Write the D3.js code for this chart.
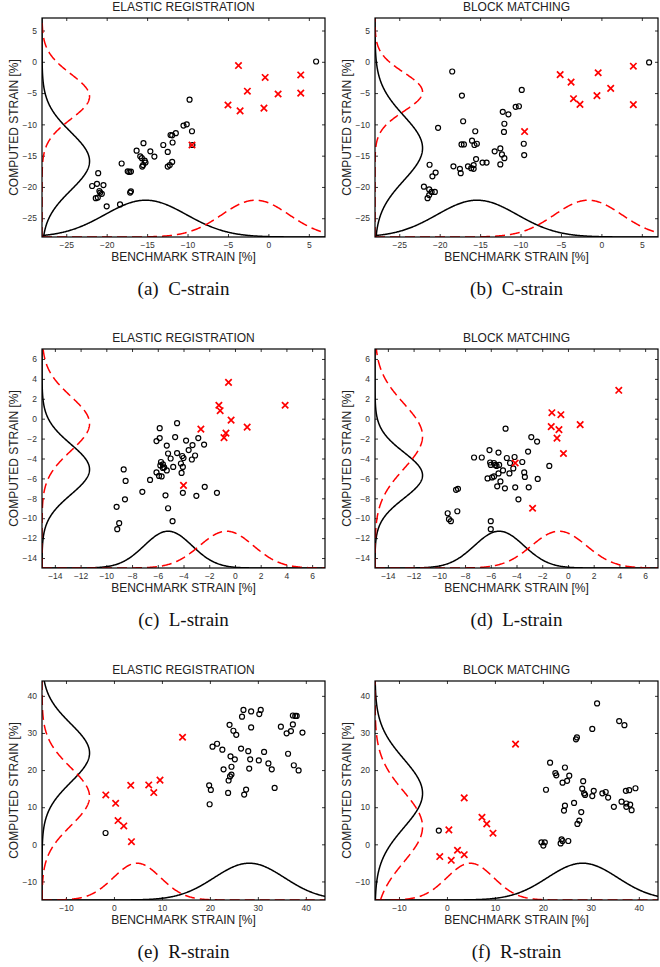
<!DOCTYPE html>
<html>
<head>
<meta charset="utf-8">
<script src="https://cdn.jsdelivr.net/npm/d3@7"></script>
<style>
  body { margin: 0; background: #fff; }
</style>
</head>
<body>
<div id="chart-area"></div>
<script>
// scatter data [benchmark, computed]
const cElasticCircles = [[5.9,0.05],[-9.75,-6.05],[-10.5,-10.2],[-10.1,-10.0],[-9.45,-11.1],[-11.45,-11.4],[-12.1,-11.7],[-11.9,-11.75],[-11.85,-12.9],[-9.4,-13.3],[-13.0,-13.3],[-15.45,-13.0],[-16.3,-14.2],[-14.6,-14.3],[-14.1,-15.15],[-15.85,-15.1],[-15.65,-15.4],[-15.3,-15.8],[-15.5,-16.5],[-12.45,-14.4],[-11.9,-16.0],[-12.45,-16.75],[-12.2,-16.5],[-15.2,-16.1],[-15.6,-16.75],[-18.15,-16.25],[-17.4,-17.5],[-17.0,-17.55],[-17.2,-17.6],[-17.0,-20.7],[-17.1,-20.9],[-18.35,-22.8],[-20.0,-23.1],[-21.05,-17.8],[-21.8,-19.85],[-21.2,-19.5],[-20.4,-19.7],[-20.9,-20.65],[-20.8,-20.9],[-20.6,-21.1],[-21.35,-21.8],[-21.1,-21.7]]
const cElasticCrosses = [[-3.7,-0.6],[-0.4,-2.5],[4.0,-2.1],[-2.6,-4.7],[1.2,-5.15],[4.0,-5.0],[-5.0,-6.9],[-3.5,-7.85],[-0.55,-7.4],[-9.45,-13.3]]
const cBlockCircles = [[5.9,-0.1],[-18.45,-1.55],[-17.25,-5.4],[-9.85,-4.5],[-10.6,-7.2],[-10.2,-7.1],[-12.2,-8.0],[-11.5,-8.4],[-17.1,-9.5],[-20.2,-10.55],[-12.0,-9.9],[-12.05,-11.2],[-15.6,-11.1],[-16.0,-12.6],[-15.7,-13.3],[-15.4,-13.1],[-17.3,-13.2],[-17.0,-13.2],[-9.6,-13.1],[-9.55,-14.9],[-13.2,-14.3],[-12.5,-13.85],[-12.3,-14.8],[-12.0,-15.4],[-15.5,-15.55],[-14.2,-16.1],[-14.7,-16.1],[-12.5,-16.4],[-18.3,-16.7],[-17.5,-17.1],[-17.4,-17.8],[-16.5,-16.7],[-16.1,-17.0],[-15.8,-17.1],[-15.8,-16.5],[-21.25,-16.45],[-20.5,-17.7],[-20.9,-18.3],[-21.95,-19.95],[-21.3,-20.4],[-21.0,-20.8],[-20.6,-20.8],[-21.5,-21.8],[-21.3,-21.3]]
const cBlockCrosses = [[-5.1,-2.05],[-3.75,-3.25],[-0.4,-1.75],[3.95,-0.7],[1.15,-4.25],[-3.45,-5.9],[-2.65,-6.8],[-0.55,-5.4],[3.95,-6.85],[-9.5,-11.15]]

const lElasticCircles = [[-4.5,-0.45],[-5.85,-0.95],[-5.85,-1.95],[-6.1,-2.25],[-4.65,-1.85],[-3.8,-2.2],[-2.85,-1.95],[-2.4,-2.6],[-3.3,-2.65],[-3.6,-3.15],[-5.3,-2.7],[-5.2,-3.5],[-5.0,-4.0],[-3.1,-3.7],[-3.35,-4.1],[-4.5,-3.45],[-4.1,-3.75],[-4.0,-3.95],[-4.2,-4.5],[-4.05,-4.85],[-4.8,-4.85],[-5.75,-4.35],[-5.6,-4.6],[-5.5,-4.9],[-5.8,-4.7],[-5.3,-5.2],[-5.6,-4.95],[-6.1,-5.4],[-5.9,-5.75],[-5.7,-5.8],[-4.15,-5.45],[-8.65,-5.1],[-8.5,-6.25],[-6.6,-6.15],[-7.2,-7.35],[-8.55,-8.1],[-5.4,-7.7],[-4.05,-7.45],[-3.0,-7.75],[-2.35,-6.85],[-1.4,-7.45],[-5.2,-9.0],[-9.2,-8.85],[-9.0,-10.5],[-9.15,-11.1],[-4.85,-10.3]]
const lElasticCrosses = [[-0.5,3.65],[-1.25,1.35],[-1.15,0.8],[-0.3,-0.15],[3.9,1.35],[0.95,-0.85],[-0.7,-1.45],[-0.85,-1.9],[-2.65,-1.05],[-4.0,-6.7]]
const lBlockCircles = [[-4.85,-1.0],[-2.85,-1.85],[-2.4,-2.3],[-3.1,-3.3],[-6.1,-3.15],[-7.3,-3.9],[-6.7,-3.9],[-5.4,-3.4],[-4.75,-3.95],[-4.15,-3.85],[-3.55,-4.35],[-4.5,-4.45],[-4.25,-5.0],[-6.05,-4.4],[-5.75,-4.45],[-5.65,-4.65],[-5.55,-4.75],[-6.0,-4.65],[-5.35,-4.65],[-5.05,-5.2],[-5.4,-5.5],[-4.55,-5.5],[-3.4,-5.4],[-3.35,-5.85],[-2.35,-6.05],[-1.45,-4.75],[-6.25,-6.0],[-5.9,-5.9],[-5.75,-5.8],[-5.25,-6.3],[-5.5,-6.8],[-4.9,-7.0],[-4.1,-6.9],[-3.05,-6.9],[-3.85,-8.1],[-8.7,-7.15],[-8.55,-7.05],[-8.6,-9.3],[-9.35,-9.5],[-9.25,-10.1],[-9.1,-10.3],[-6.0,-10.3],[-6.0,-11.1]]
const lBlockCrosses = [[3.95,2.85],[-1.25,0.6],[-0.55,0.4],[-1.3,-0.8],[-0.7,-1.1],[-0.85,-1.95],[0.95,-0.6],[-0.35,-3.5],[-4.1,-4.45],[-2.75,-9.0]]

const rElasticCircles = [[-1.75,3.05],[19.95,10.8],[19.85,15.9],[20.2,14.65],[23.8,13.85],[27.15,13.4],[27.55,14.75],[33.5,15.2],[23.9,17.2],[24.2,18.3],[24.5,18.8],[24.5,20.9],[22.85,20.2],[22.6,25.5],[20.55,26.3],[21.5,27.1],[24.3,23.7],[25.2,22.9],[26.5,25.8],[28.0,25.1],[28.4,22.9],[28.2,20.4],[30.2,22.6],[31.3,24.9],[32.2,21.8],[32.9,20.2],[36.3,24.4],[37.5,21.3],[38.5,19.9],[24.1,32.2],[24.9,30.6],[25.5,29.5],[28.6,31.5],[26.7,34.4],[27.0,36.2],[28.6,35.8],[30.3,35.1],[30.6,36.2],[34.8,31.7],[36.0,29.9],[36.9,30.5],[37.3,32.3],[37.3,34.7],[37.8,34.6],[38.1,34.6],[39.3,30.1]]
const rElasticCrosses = [[-1.7,13.3],[0.35,11.05],[0.85,6.4],[2.05,4.95],[3.65,0.7],[3.5,15.9],[7.25,16.0],[8.3,13.95],[9.6,17.3],[14.3,28.85]]
const rBlockCircles = [[-1.7,3.7],[31.3,37.95],[35.9,33.2],[37.0,32.1],[30.3,31.1],[26.9,28.3],[27.1,28.8],[21.5,22.0],[22.6,19.2],[22.8,18.6],[24.6,20.7],[25.5,18.5],[25.05,17.1],[24.1,16.6],[20.65,14.7],[28.4,17.0],[28.2,15.0],[28.6,13.7],[28.8,13.3],[30.6,14.4],[30.3,13.0],[32.4,13.75],[33.1,14.1],[33.6,12.6],[34.8,10.1],[36.4,11.5],[37.3,14.4],[38.0,14.6],[39.3,15.1],[37.4,11.0],[38.2,10.7],[37.4,10.1],[38.5,9.2],[24.6,10.4],[24.4,9.1],[26.5,11.15],[28.0,8.7],[27.6,6.4],[27.2,5.5],[19.7,0.55],[20.1,-0.35],[20.4,0.55],[23.9,1.35],[24.1,0.9],[23.7,0.25],[25.3,0.9]]
const rBlockCrosses = [[-1.5,-3.3],[0.4,3.9],[0.9,-4.3],[2.2,-1.6],[3.6,-2.8],[3.6,12.5],[7.3,7.3],[8.3,5.5],[9.6,3.0],[14.3,27.0]]

// axis ranges and ticks
const cDomain = [-28, 7]
const lDomain = [-15, 7]
const rDomain = [-15, 44]
const cTicks = [-25, -20, -15, -10, -5, 0, 5]
const lTicks = [-14, -12, -10, -8, -6, -4, -2, 0, 2, 4, 6]
const rTicks = [-10, 0, 10, 20, 30, 40]

const titles = ["ELASTIC REGISTRATION", "BLOCK MATCHING"]
const captions = ["(a)  C-strain", "(b)  C-strain", "(c)  L-strain", "(d)  L-strain", "(e)  R-strain", "(f)  R-strain"]

const BOX = { W: 283, H: 219 }
const COLS = [42, 375]
const ROWS = [18, 349, 681]
const PEAK = 0.168   // height of the fitted normal curves as share of the axis span
const SANS = "'Liberation Sans', Arial, sans-serif"
const SERIF = "'Liberation Serif', 'Times New Roman', serif"

const panels = [
  { domain: cDomain, ticks: cTicks, circles: cElasticCircles, crosses: cElasticCrosses },
  { domain: cDomain, ticks: cTicks, circles: cBlockCircles, crosses: cBlockCrosses },
  { domain: lDomain, ticks: lTicks, circles: lElasticCircles, crosses: lElasticCrosses },
  { domain: lDomain, ticks: lTicks, circles: lBlockCircles, crosses: lBlockCrosses },
  { domain: rDomain, ticks: rTicks, circles: rElasticCircles, crosses: rElasticCrosses },
  { domain: rDomain, ticks: rTicks, circles: rBlockCircles, crosses: rBlockCrosses }
]

const svg = d3.select("#chart-area").append("svg")
  .attr("width", 660)
  .attr("height", 967)
  .style("display", "block")

svg.append("rect").attr("width", 660).attr("height", 967).attr("fill", "#fff")

panels.forEach((p, i) => {
  const col = i % 2, row = Math.floor(i / 2)
  const g = svg.append("g")
    .attr("transform", `translate(${COLS[col]}, ${ROWS[row]})`)

  const x = d3.scaleLinear().domain(p.domain).range([0, BOX.W])
  const y = d3.scaleLinear().domain(p.domain).range([BOX.H, 0])

  svg.append("clipPath").attr("id", "clip" + i)
    .append("rect").attr("width", BOX.W).attr("height", BOX.H)

  // axes, ticks pointing inward on all sides
  const styleAxis = sel => {
    sel.select(".domain").remove()
    sel.selectAll("line").attr("stroke", "#000").attr("stroke-width", 0.8)
    sel.selectAll("text")
      .style("font-size", "8.5px")
      .style("font-family", SANS)
      .attr("fill", "#333")
  }
  g.append("g").attr("transform", `translate(0, ${BOX.H})`)
    .call(d3.axisBottom(x).tickValues(p.ticks).tickSizeInner(-3).tickSizeOuter(0).tickPadding(5))
    .call(styleAxis)
  g.append("g")
    .call(d3.axisLeft(y).tickValues(p.ticks).tickSizeInner(-3).tickSizeOuter(0).tickPadding(5))
    .call(styleAxis)
  g.append("g")
    .call(d3.axisTop(x).tickValues(p.ticks).tickSizeInner(-3).tickSizeOuter(0).tickFormat(""))
    .call(styleAxis)
  g.append("g").attr("transform", `translate(${BOX.W}, 0)`)
    .call(d3.axisRight(y).tickValues(p.ticks).tickSizeInner(-3).tickSizeOuter(0).tickFormat(""))
    .call(styleAxis)

  // fitted normal curves along the two axes
  const plot = g.append("g").attr("clip-path", `url(#clip${i})`)
  const span = p.domain[1] - p.domain[0]
  const samples = d3.range(p.domain[0], p.domain[1] + span / 400, span / 400)
  const sets = [
    { pts: p.circles, color: "#000", dash: null },
    { pts: p.crosses, color: "#ff0000", dash: "10,5" }
  ]
  sets.forEach(s => {
    const mx = d3.mean(s.pts, d => d[0]), sx = d3.deviation(s.pts, d => d[0])
    const my = d3.mean(s.pts, d => d[1]), sy = d3.deviation(s.pts, d => d[1])
    const bottom = d3.line()
      .x(v => x(v))
      .y(v => y(p.domain[0] + PEAK * span * Math.exp(-((v - mx) ** 2) / (2 * sx * sx))))
    const left = d3.line()
      .x(v => x(p.domain[0] + PEAK * span * Math.exp(-((v - my) ** 2) / (2 * sy * sy))))
      .y(v => y(v))
    ;[bottom, left].forEach(gen => {
      plot.append("path")
        .attr("d", gen(samples))
        .attr("fill", "none")
        .attr("stroke", s.color)
        .attr("stroke-width", 1.5)
        .attr("stroke-dasharray", s.dash)
    })
  })

  // markers
  plot.selectAll("circle.pt")
    .data(p.circles)
    .enter().append("circle")
    .attr("class", "pt")
    .attr("cx", d => x(d[0]))
    .attr("cy", d => y(d[1]))
    .attr("r", 2.5)
    .attr("fill", "none")
    .attr("stroke", "#000")
    .attr("stroke-width", 1.2)

  const s = 3.2
  plot.selectAll("path.cross")
    .data(p.crosses)
    .enter().append("path")
    .attr("class", "cross")
    .attr("d", d => {
      const cx = x(d[0]), cy = y(d[1])
      return `M${cx - s},${cy - s}L${cx + s},${cy + s}M${cx - s},${cy + s}L${cx + s},${cy - s}`
    })
    .attr("stroke", "#ff0000")
    .attr("stroke-width", 1.7)

  // box
  g.append("rect")
    .attr("width", BOX.W)
    .attr("height", BOX.H)
    .attr("fill", "none")
    .attr("stroke", "#000")
    .attr("stroke-width", 1.2)

  // labels
  const label = () => g.append("text")
    .attr("text-anchor", "middle")
    .attr("dominant-baseline", "central")
    .style("font-family", SANS)
    .style("font-size", "12px")
    .attr("fill", "#222")

  label().attr("x", BOX.W / 2).attr("y", -11).text(titles[col])
  label().attr("x", BOX.W / 2).attr("y", BOX.H + 19.5).text("BENCHMARK STRAIN [%]")
  label().attr("transform", `translate(-28, ${BOX.H / 2}) rotate(-90)`).text("COMPUTED STRAIN [%]")

  g.append("text")
    .attr("x", BOX.W / 2)
    .attr("y", BOX.H + 51)
    .attr("text-anchor", "middle")
    .attr("dominant-baseline", "central")
    .style("font-size", "19px")
    .style("font-family", SERIF)
    .style("white-space", "pre")
    .attr("fill", "#111")
    .text(captions[i])
})
</script>
</body>
</html>
